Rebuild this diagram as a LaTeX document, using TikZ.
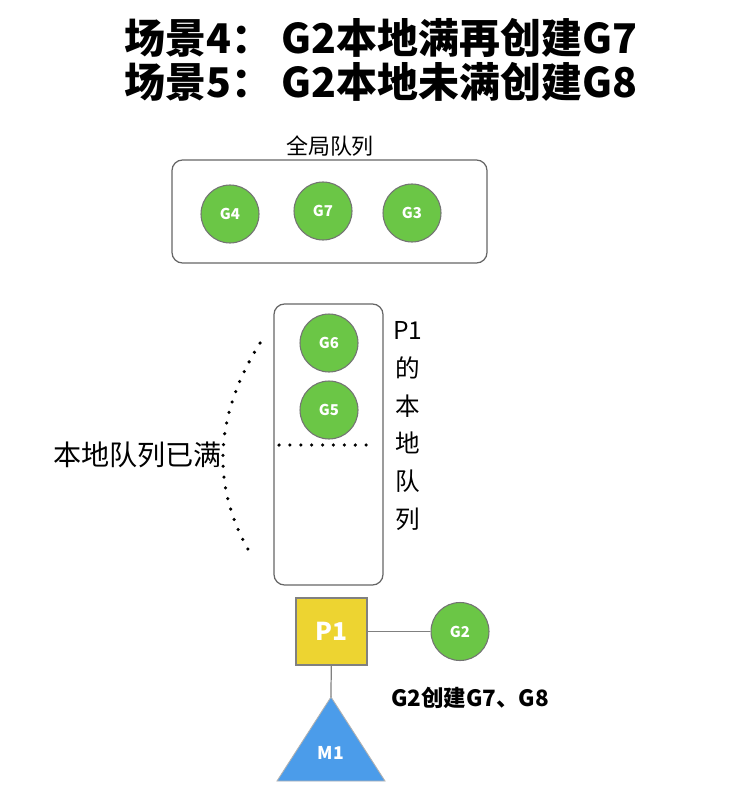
\documentclass[tikz,border=0pt]{standalone}
\usepackage{fontspec}
\setmainfont{Noto Sans CJK SC}
\usetikzlibrary{shapes.geometric, positioning}

\begin{document}
\begin{tikzpicture}[x=0.02cm, y=-0.02cm,
    gnode/.style={circle, draw=black!55, line width=0.6pt, fill=gcolor, minimum size=58*0.02cm, inner sep=0pt, text=white, font=\fontsize{8.5}{10}\selectfont\bfseries},
    queuebox/.style={rectangle, rounded corners=6pt, draw=black!60, line width=0.7pt},
    dotline/.style={line width=2pt, line cap=round, dash pattern=on 0pt off 6.2pt},
    link/.style={draw=black!50, line width=0.7pt}]
        \definecolor{gcolor}{HTML}{6BC646}
        \definecolor{pcolor}{HTML}{EDD431}
        \definecolor{mcolor}{HTML}{4B9CEA}
        \useasboundingbox (0,0) rectangle (749,808);

            % titles
            \node (title1) at (381,38) {\fontsize{23.3}{27}\selectfont\bfseries 场景4： G2本地满再创建G7};
            \node (title2) at (381,82) {\fontsize{23.3}{27}\selectfont\bfseries 场景5： G2本地未满创建G8};

            % global queue
            \node (global) [queuebox, minimum width=315*0.02cm, minimum height=103*0.02cm] at (329.5,211.5) {};
            \node (globallabel) at (330,146) {\fontsize{12.5}{15}\selectfont 全局队列};
            \node (g4) [gnode] at (230,214) {G4};
            \node (g7) [gnode] at (323,211) {G7};
            \node (g3) [gnode] at (412,213) {G3};

            % local queue of P1
            \node (local) [queuebox, minimum width=109*0.02cm, minimum height=281*0.02cm] at (328.5,444.5) {};
            \node (g6) [gnode] at (329,343) {G6};
            \node (g5) [gnode] at (329,410) {G5};
            \coordinate (cutl) at (279,445);
            \coordinate (cutr) at (373,445);
            \draw[dotline] (cutl) -- (cutr);
            \node (locallabel) [align=center, font=\fontsize{14}{21.6}\selectfont] at (408,426) {P1\\的\\本\\地\\队\\列};

            % full
            \coordinate (arctop) at (260,343);
            \coordinate (arcbot) at (252,556);
            \draw[dotline] (arctop) .. controls (212,420) and (212,490) .. (arcbot);
            \node (fulllabel) [anchor=east, font=\fontsize{16}{18}\selectfont] at (228,455) {本地队列已满};

            % P1, M1 and G2
            \node (p1) [rectangle, draw=black!50, line width=0.6pt, fill=pcolor, minimum width=71*0.02cm, minimum height=67*0.02cm, text=white, font=\fontsize{14}{16}\selectfont\bfseries] at (331.5,631.5) {P1};
            \node (g2) [gnode] at (460,631.5) {G2};
            \draw[link] (p1) -- (g2);
            \draw[fill=mcolor, draw=black!30, line width=0.5pt] (331,697) -- (385,781) -- (277,781) -- cycle;
            \coordinate (m1top) at (331,697);
            \node (m1) [text=white, font=\fontsize{10}{12}\selectfont\bfseries] at (331,753) {M1};
            \draw[link] (p1) -- (m1top);
            \node (create) [font=\fontsize{12.8}{15}\selectfont\bfseries] at (470,698) {G2创建G7、G8};

        \end{tikzpicture}
\end{document}
